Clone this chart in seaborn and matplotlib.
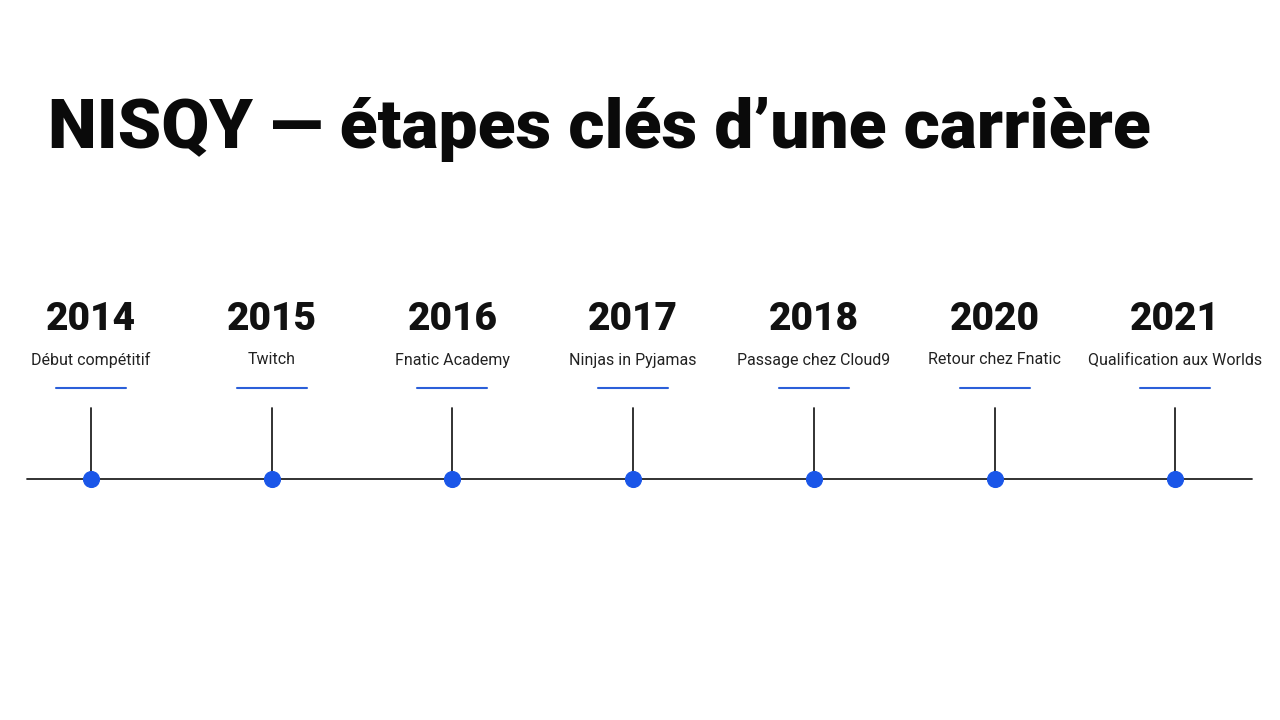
import matplotlib
matplotlib.use("Agg")
import matplotlib.pyplot as plt
import seaborn as sns
import pandas as pd

years = ["2014", "2015", "2016", "2017", "2018", "2020", "2021"]
labels = ["Début compétitif", "Twitch", "Fnatic Academy", "Ninjas in Pyjamas",
          "Passage chez Cloud9", "Retour chez Fnatic", "Qualification aux Worlds"]
title = "NISQY — étapes clés d’une carrière"

sns.set_theme(style="white")
plt.rcParams['font.family'] = ['Roboto', 'DejaVu Sans']

fig = plt.figure(figsize=(12.8, 7.2), dpi=100)
ax = fig.add_axes([0, 0, 1, 1])

xs = [91 + i * 180.7 for i in range(len(years))]
df = pd.DataFrame({"x": xs, "y": [479] * len(xs), "year": years, "label": labels})

ax.plot([27, 1252], [479, 479], color="#222222", lw=1.3, zorder=1)
for x, yr, lb in zip(df.x, df.year, df.label):
    ax.plot([x, x], [408, 479], color="#222222", lw=1.3, zorder=1)
    ax.plot([x - 35, x + 35], [388, 388], color="#2b5fd9", lw=1.5)
    ax.text(x, 320, yr, ha="center", va="center", fontsize=28, fontweight="black",
            color="#111111")
    ax.text(x, 360, lb, ha="center", va="center", fontsize=11.5, color="#222222")
sns.scatterplot(data=df, x="x", y="y", ax=ax, s=130, color="#1a56e8",
                edgecolor="#1a56e8", zorder=3, legend=False)
ax.set_xlim(0, 1280)
ax.set_ylim(720, 0)
ax.axis("off")

ax.text(48, 130, title, ha="left", va="center", fontsize=50, fontweight="black",
        color="#0a0a0a")

fig.savefig("out.png", dpi=100, facecolor="white")
